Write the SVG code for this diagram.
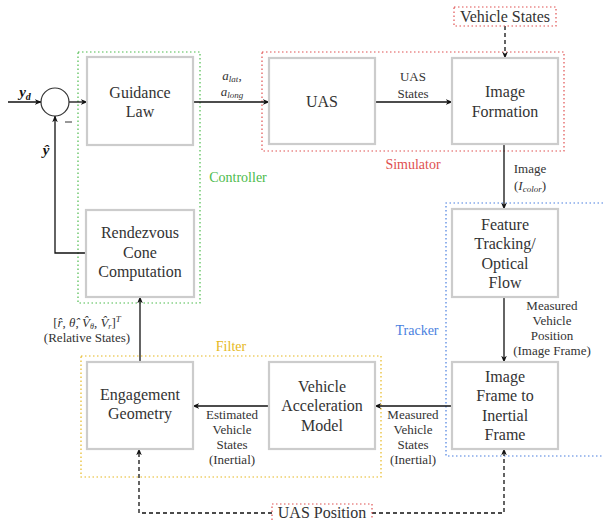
<svg xmlns="http://www.w3.org/2000/svg" width="603" height="520" viewBox="0 0 603 520">
<defs>
<marker id="ah" viewBox="0 0 10 10" refX="9" refY="5" markerWidth="7" markerHeight="7" orient="auto" markerUnits="userSpaceOnUse">
<path d="M0,1 L10,5 L0,9 L3,5 Z" fill="#111"/>
</marker>
</defs>
<style>
text{font-family:"Liberation Serif","Times New Roman",Times,serif}
.box{fill:#fff;stroke:#cccccc;stroke-width:2.2}
.bt{font-size:16px;fill:#333;text-anchor:middle}
.lb{font-size:13px;fill:#333;text-anchor:middle}
.ln{fill:none;stroke:#111;stroke-width:1.3}
.ds{fill:none;stroke:#111;stroke-width:1.3;stroke-dasharray:4,3}
.grp{fill:none;stroke-width:1.2;stroke-dasharray:1.5,2.5}
.gl{font-size:14px;text-anchor:middle}
.m{font-size:15px;font-weight:bold;font-style:italic;fill:#111;text-anchor:middle}
</style>
<rect width="603" height="520" fill="#fff"/>

<g id="groups">
<rect class="grp" x="78" y="52" width="122" height="251" stroke="#4cbb4c"/>
<text class="gl" x="238" y="182" fill="#4cbb4c">Controller</text>
<rect class="grp" x="262" y="52" width="302" height="99" stroke="#e05050"/>
<text class="gl" x="413" y="169" fill="#e05050">Simulator</text>
<path class="grp" d="M603,203 H446 V456 H603" stroke="#4a7fe0"/>
<text class="gl" x="417" y="335" fill="#4a7fe0">Tracker</text>
<rect class="grp" x="81" y="356" width="300" height="121" stroke="#e6b820"/>
<text class="gl" x="231" y="351" fill="#e6b820">Filter</text>
</g>

<g id="connectors">
<line class="ln" x1="8" y1="102" x2="41" y2="102" marker-end="url(#ah)"/>
<line class="ln" x1="69" y1="102" x2="87" y2="102" marker-end="url(#ah)"/>
<line class="ln" x1="193" y1="102" x2="269" y2="102" marker-end="url(#ah)"/>
<line class="ln" x1="375" y1="102" x2="452" y2="102" marker-end="url(#ah)"/>
<line class="ln" x1="504" y1="144" x2="504" y2="209" marker-end="url(#ah)"/>
<line class="ln" x1="504" y1="297" x2="504" y2="362" marker-end="url(#ah)"/>
<line class="ln" x1="452" y1="406" x2="375" y2="406" marker-end="url(#ah)"/>
<line class="ln" x1="269" y1="406" x2="193" y2="406" marker-end="url(#ah)"/>
<line class="ln" x1="140" y1="362" x2="140" y2="297" marker-end="url(#ah)"/>
<path class="ln" d="M86,253 H55 V116" marker-end="url(#ah)"/>
<line class="ds" x1="505" y1="26" x2="505" y2="58" marker-end="url(#ah)"/>
<path class="ds" d="M272,513 H139 V449" marker-end="url(#ah)"/>
<path class="ds" d="M372,513 H504 V449" marker-end="url(#ah)"/>
<text class="m" x="25" y="97">y<tspan font-size="10" dy="3">d</tspan></text>
<text class="m" x="46" y="155">ŷ</text>
<line x1="65" y1="122" x2="72" y2="122" stroke="#333" stroke-width="1"/>
<text class="lb" x="232" y="80" font-style="italic">a<tspan font-size="9" dy="2">lat</tspan><tspan dy="-2" font-style="normal">,</tspan></text>
<text class="lb" x="232" y="96" font-style="italic">a<tspan font-size="9" dy="2">long</tspan></text>
<text class="lb" x="413" y="81">UAS</text>
<text class="lb" x="413" y="98">States</text>
<text class="lb" x="530" y="173">Image</text>
<text class="lb" x="530" y="190">(<tspan font-style="italic">I<tspan font-size="9" dy="2">color</tspan></tspan><tspan dy="-2">)</tspan></text>
<text class="lb" x="552" y="310">Measured</text>
<text class="lb" x="552" y="325">Vehicle</text>
<text class="lb" x="552" y="340">Position</text>
<text class="lb" x="552" y="355">(Image Frame)</text>
<text class="lb" x="413" y="419">Measured</text>
<text class="lb" x="413" y="434">Vehicle</text>
<text class="lb" x="413" y="449">States</text>
<text class="lb" x="413" y="464">(Inertial)</text>
<text class="lb" x="232" y="419">Estimated</text>
<text class="lb" x="232" y="434">Vehicle</text>
<text class="lb" x="232" y="449">States</text>
<text class="lb" x="232" y="464">(Inertial)</text>
<text class="lb" x="87" y="327">[<tspan font-style="italic">r̂</tspan>, <tspan font-style="italic">θ̂</tspan>, <tspan font-style="italic">V̂</tspan><tspan font-size="8" dy="2" font-style="italic">θ</tspan><tspan dy="-2">, </tspan><tspan font-style="italic">V̂</tspan><tspan font-size="8" dy="2" font-style="italic">r</tspan><tspan dy="-2">]</tspan><tspan font-size="9" dy="-5" font-style="italic">T</tspan></text>
<text class="lb" x="87" y="342">(Relative States)</text>
</g>

<g id="sum"><circle cx="55" cy="102" r="14" fill="#fff" stroke="#333" stroke-width="1.2"/></g>

<g id="guidance"><rect class="box" x="87" y="57" width="106" height="88"/>
<text class="bt" x="140" y="98">Guidance</text><text class="bt" x="140" y="117">Law</text></g>

<g id="uas"><rect class="box" x="269" y="58" width="106" height="86"/>
<text class="bt" x="322" y="107">UAS</text></g>

<g id="imageformation"><rect class="box" x="452" y="58" width="106" height="86"/>
<text class="bt" x="505" y="97">Image</text><text class="bt" x="505" y="117">Formation</text></g>

<g id="rendezvous"><rect class="box" x="86" y="210" width="108" height="87"/>
<text class="bt" x="140" y="238">Rendezvous</text><text class="bt" x="140" y="258">Cone</text><text class="bt" x="140" y="277">Computation</text></g>

<g id="feature"><rect class="box" x="452" y="209" width="106" height="88"/>
<text class="bt" x="505" y="230">Feature</text><text class="bt" x="505" y="249">Tracking/</text><text class="bt" x="505" y="269">Optical</text><text class="bt" x="505" y="288">Flow</text></g>

<g id="engagement"><rect class="box" x="87" y="362" width="106" height="87"/>
<text class="bt" x="140" y="400">Engagement</text><text class="bt" x="140" y="419">Geometry</text></g>

<g id="vam"><rect class="box" x="269" y="362" width="106" height="87"/>
<text class="bt" x="322" y="392">Vehicle</text><text class="bt" x="322" y="411">Acceleration</text><text class="bt" x="322" y="431">Model</text></g>

<g id="imgframe"><rect class="box" x="452" y="362" width="106" height="87"/>
<text class="bt" x="505" y="382">Image</text><text class="bt" x="505" y="401">Frame to</text><text class="bt" x="505" y="421">Inertial</text><text class="bt" x="505" y="440">Frame</text></g>

<g id="vehiclestates"><rect x="454" y="7" width="102" height="19" fill="#fff" stroke="#e05050" stroke-width="1.2" stroke-dasharray="1.5,2.5"/>
<text class="bt" x="505" y="22">Vehicle States</text></g>

<g id="uasposition"><rect x="272" y="504" width="100" height="20" fill="#fff" stroke="#e05050" stroke-width="1.2" stroke-dasharray="1.5,2.5"/>
<text class="bt" x="322" y="518">UAS Position</text></g>
</svg>
